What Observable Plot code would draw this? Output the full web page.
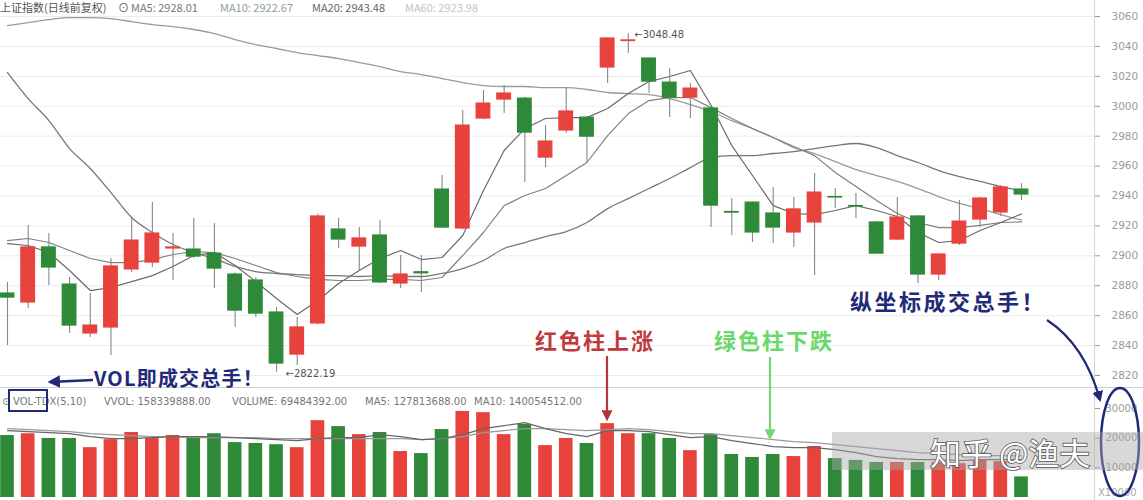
<!DOCTYPE html>
<html><head><meta charset="utf-8">
<script src="https://cdn.jsdelivr.net/npm/d3@7"></script>
<script src="https://cdn.jsdelivr.net/npm/@observablehq/plot@0.6"></script>
<style>
body{margin:0;background:#fff;}
#wrap{position:relative;width:1143px;height:500px;overflow:hidden;background:#fff;font-family:"Noto Sans CJK SC","DejaVu Sans",sans-serif;}
#price{position:absolute;left:0;top:0;}
#vol{position:absolute;left:0;top:388px;}
#over{position:absolute;left:0;top:0;}
</style></head><body>
<div id="wrap"><div id="price"></div><div id="vol"></div><svg id="over" width="1143" height="500"></svg></div>
<script>
// ---- data ----
const days = d3.range(1, 51);
const opens = [2874.8,2868.8,2905.6,2880.8,2848.1,2852.1,2890.9,2895.5,2904.9,2904.2,2901.5,2887.5,2883.5,2862.1,2834.0,2854.8,2917.6,2906.2,2913.6,2881.5,2889.0,2944.3,2918.3,2991.8,3004.5,3005.1,2965.7,2983.8,2992.4,3025.9,3043.6,3031.9,3015.8,3005.8,2998.5,2929.3,2935.6,2928.3,2915.6,2922.3,2939.3,2933.3,2922.3,2910.9,2926.3,2887.5,2908.2,2924.3,2929.0,2944.3];
const closes = [2872.1,2905.6,2892.2,2853.4,2853.4,2892.9,2910.2,2914.9,2905.6,2899.5,2891.5,2863.4,2861.4,2828.0,2852.1,2926.3,2910.9,2911.6,2882.2,2887.5,2888.3,2918.9,2987.1,3001.8,3008.5,2982.4,2976.4,2996.5,2979.7,3045.3,3044.0,3016.5,3005.8,3011.8,2933.6,2928.9,2915.6,2918.9,2931.0,2942.3,2939.0,2933.0,2901.5,2925.6,2887.5,2900.9,2922.9,2938.3,2945.7,2941.0];
const highs = [2882.2,2920.3,2914.9,2885.5,2874.8,2898.2,2924.9,2935.6,2914.9,2924.9,2921.6,2888.5,2885.5,2865.5,2858.8,2928.0,2924.9,2918.9,2923.6,2900.2,2900.2,2953.7,2997.1,3010.5,3013.8,3006.0,2987.1,3012.5,2993.0,3046.0,3048.48,3032.5,3025.2,3015.2,2999.0,2938.3,2936.0,2945.7,2939.0,2955.0,2945.0,2941.6,2923.0,2939.0,2927.0,2901.5,2937.0,2939.0,2947.0,2948.3];
const lows = [2840.1,2864.8,2880.2,2848.1,2845.4,2833.4,2888.8,2892.2,2883.5,2898.2,2878.2,2852.1,2858.8,2822.19,2826.7,2854.0,2904.9,2890.2,2881.5,2878.2,2875.5,2918.3,2917.5,2991.0,2995.1,2949.0,2959.0,2982.0,2962.4,3015.2,3035.2,3008.5,2992.4,2991.8,2918.9,2913.6,2908.9,2908.2,2905.6,2886.8,2931.6,2924.9,2901.0,2910.2,2881.5,2883.5,2906.9,2918.9,2926.3,2937.0];
const ma5 = [2908.2,2906.9,2902.2,2890.2,2876.8,2878.8,2882.8,2886.8,2892.9,2900.2,2902.2,2893.5,2882.8,2871.5,2860.8,2870.1,2881.5,2890.2,2898.2,2903.6,2897.5,2898.9,2913.6,2943.7,2970.4,2985.1,2991.8,2992.4,2992.4,2998.5,3008.5,3016.5,3019.9,3023.9,3000.5,2973.7,2953.7,2933.6,2928.3,2927.6,2930.3,2933.6,2930.3,2926.3,2915.6,2908.9,2910.2,2916.9,2922.3,2928.01];
const ma10 = [2910.2,2911.6,2908.9,2903.6,2898.2,2895.5,2895.5,2897.5,2900.9,2902.9,2902.2,2898.2,2893.5,2888.8,2886.2,2884.2,2883.5,2883.5,2884.2,2884.2,2883.5,2885.5,2900.2,2915.6,2933.6,2940.3,2945.0,2953.7,2962.4,2980.4,2995.1,3003.8,3005.8,3005.8,2999.1,2991.8,2985.1,2979.1,2973.1,2967.0,2955.7,2946.3,2937.0,2928.3,2922.3,2918.9,2918.9,2920.3,2922.3,2922.67];
const ma20 = [3022.5,3005.1,2990.4,2971.7,2958.4,2942.3,2925.6,2915.6,2907.6,2902.2,2898.2,2892.9,2889.5,2888.2,2887.5,2886.8,2886.8,2886.2,2886.8,2886.2,2886.2,2888.2,2891.5,2896.9,2904.9,2908.9,2912.9,2916.2,2922.3,2931.6,2938.3,2945.0,2951.7,2959.0,2965.7,2967.0,2967.0,2968.4,2969.7,2971.7,2973.7,2975.1,2972.4,2967.0,2962.4,2957.0,2953.0,2949.7,2946.3,2943.48];
const ma60 = [3053.9,3055.9,3057.9,3059.3,3059.3,3058.6,3056.6,3054.6,3053.3,3051.3,3048.6,3044.6,3041.2,3038.6,3035.9,3033.9,3031.9,3029.2,3026.5,3023.2,3021.2,3018.5,3015.8,3013.8,3013.2,3013.2,3012.5,3012.5,3011.2,3009.2,3008.5,3007.8,3005.1,3001.1,2996.5,2990.4,2985.1,2979.1,2972.4,2968.4,2963.0,2957.7,2953.7,2949.7,2945.0,2939.6,2935.0,2931.6,2927.6,2923.98];
// volume in 万手 (x10^4)
const volumes = [20900,21500,19900,19900,16800,19500,21900,19900,20900,20200,21500,18500,18200,17800,16800,25900,23900,21200,21900,15500,14800,22900,29000,28600,21200,24600,17500,19900,18200,24900,21500,21500,19900,15800,21200,14500,13500,14500,13800,17200,13100,12500,11800,11800,11800,11800,11400,12500,12100,6948];
const volMa5 = [22560,22200,21890,21550,20540,19870,19870,20200,20540,20540,20540,20200,19870,19530,19190,19870,20200,20200,21210,20540,19530,19870,21210,23230,24240,25250,23230,21550,20540,22560,22560,22200,21210,20200,20540,19190,18180,17170,16840,16840,16160,15150,13800,13130,12800,12800,12460,12800,12800,12781];
const volMa10 = [23230,22900,22560,22200,21550,21210,20880,20540,20540,20200,20200,20200,20200,19870,19870,19870,19870,19870,19870,19870,19530,19870,20540,21890,22560,23230,23230,22900,22560,22900,23230,22900,22200,21550,21550,20880,20200,19530,18860,18520,17850,17170,16500,15820,15150,14810,14480,14140,14140,14005];
const priceTicks = [2820,2840,2860,2880,2900,2920,2940,2960,2980,3000,3020,3040,3060];
const volTicks = [10000,20000,30000];
const highMark = {d: 31, v: 3048.48};
const lowMark = {d: 14, v: 2822.19};

// ---- tables ----
const RED = "#e8423d", GREEN = "#2e8a38";
const candles = days.map((d, i) => ({d, o: opens[i], c: closes[i], h: highs[i], l: lows[i], up: closes[i] >= opens[i],
  ma5: ma5[i], ma10: ma10[i], ma20: ma20[i], ma60: ma60[i], v: volumes[i], vm5: volMa5[i], vm10: volMa10[i]}));
const ups = candles.filter(c => c.up), downs = candles.filter(c => !c.up);
const W = 0.33;
const xScale = {type: "linear", domain: [1, 50], range: [7, 1021], axis: null};
const fmt = d3.format("d");

const price = Plot.plot({
  width: 1143, height: 388, marginLeft: 0, marginRight: 49, marginTop: 0, marginBottom: 0,
  style: {fontFamily: "DejaVu Sans, sans-serif", background: "transparent"},
  x: xScale,
  y: {domain: [2820, 3060], range: [375, 16], axis: null},
  marks: [
    Plot.gridY(priceTicks, {stroke: "#ececec", strokeOpacity: 1}),
    Plot.axisY(priceTicks, {anchor: "right", tickSize: 5, tickPadding: 12, fontSize: 10.5, color: "#9a9a9a", tickFormat: fmt, label: null}),
    Plot.line(candles, {x: "d", y: "ma60", stroke: "#9a9a9a", strokeWidth: 1.3, curve: "monotone-x"}),
    Plot.line(candles, {x: "d", y: "ma20", stroke: "#777", strokeWidth: 1.3, curve: "monotone-x"}),
    Plot.line(candles, {x: "d", y: "ma10", stroke: "#808080", strokeWidth: 1.2}),
    Plot.line(candles, {x: "d", y: "ma5", stroke: "#6a6a6a", strokeWidth: 1.2}),
    Plot.ruleX(candles, {x: "d", y1: "l", y2: "h", stroke: "#888", strokeWidth: 1.1}),
    Plot.rect(ups, {x1: d => d.d - W, x2: d => d.d + W, y1: "o", y2: "c", fill: RED, stroke: RED, strokeWidth: 1.2}),
    Plot.rect(downs, {x1: d => d.d - W, x2: d => d.d + W, y1: "o", y2: "c", fill: GREEN, stroke: GREEN, strokeWidth: 1.2}),
    Plot.text([highMark], {x: "d", y: "v", text: d => "←" + d.v.toFixed(2), textAnchor: "start", dx: 6, dy: 1, fontSize: 10, fill: "#555"}),
    Plot.text([lowMark], {x: "d", y: "v", text: d => "←" + d.v.toFixed(2), textAnchor: "start", dx: 9, dy: 2, fontSize: 10, fill: "#555"})
  ]
});
document.getElementById("price").append(price);

const vol = Plot.plot({
  width: 1143, height: 112, marginLeft: 0, marginRight: 49, marginTop: 0, marginBottom: 0,
  style: {fontFamily: "DejaVu Sans, sans-serif", background: "transparent"},
  x: xScale,
  y: {domain: [0, 30000], range: [109, 20], axis: null},
  marks: [
    Plot.axisY(volTicks, {anchor: "right", tickSize: 5, tickPadding: 6, fontSize: 10, color: "#9a9a9a", tickFormat: fmt, label: null}),
    Plot.rect(ups, {x1: d => d.d - W, x2: d => d.d + W, y1: d => 0, y2: "v", fill: RED}),
    Plot.rect(downs, {x1: d => d.d - W, x2: d => d.d + W, y1: d => 0, y2: "v", fill: GREEN}),
    Plot.line(candles, {x: "d", y: "vm10", stroke: "#999", strokeWidth: 1.2}),
    Plot.line(candles, {x: "d", y: "vm5", stroke: "#666", strokeWidth: 1.2})
  ]
});
document.getElementById("vol").append(vol);

// ---- decorations / annotations ----
const NAVY = "#1f2a78";
const svg = d3.select("#over");
const defs = svg.append("defs");
function marker(id, color, size) {
  defs.append("marker").attr("id", id).attr("viewBox", "0 0 10 10").attr("refX", 8).attr("refY", 5)
    .attr("markerWidth", size).attr("markerHeight", size).attr("orient", "auto-start-reverse")
    .append("path").attr("d", "M0,0 L10,5 L0,10 z").attr("fill", color);
}
marker("mNavy", NAVY, 5); marker("mRed", "#b8333a", 5); marker("mGreen", "#76d676", 5);

svg.append("line").attr("x1", 0).attr("x2", 1143).attr("y1", 387.5).attr("y2", 387.5).attr("stroke", "#d0d0d0");
svg.append("line").attr("x1", 1094.5).attr("x2", 1094.5).attr("y1", 0).attr("y2", 500).attr("stroke", "#d6d6d6");

// top header
const hdr = svg.append("text").attr("y", 12).attr("font-size", 11).attr("font-family", "Noto Sans CJK SC, DejaVu Sans");
hdr.append("tspan").attr("x", 0).attr("fill", "#555").text("上证指数(日线前复权)");
hdr.append("tspan").attr("x", 118).attr("fill", "#555").text("⊙");
hdr.append("tspan").attr("x", 131).attr("fill", "#777").text("MA5: 2928.01");
hdr.append("tspan").attr("x", 220).attr("fill", "#8fa08f").text("MA10: 2922.67");
hdr.append("tspan").attr("x", 312).attr("fill", "#666").text("MA20: 2943.48");
hdr.append("tspan").attr("x", 405).attr("fill", "#c4c4c4").text("MA60: 2923.98");

// volume header
const vh = svg.append("text").attr("y", 405).attr("font-size", 10).attr("fill", "#777").attr("font-family", "DejaVu Sans, sans-serif");
vh.append("tspan").attr("x", 2).text("⊙");
vh.append("tspan").attr("x", 13).text("VOL-TDX(5,10)");
vh.append("tspan").attr("x", 104).text("VVOL: 158339888.00");
vh.append("tspan").attr("x", 232).text("VOLUME: 69484392.00");
vh.append("tspan").attr("x", 365).text("MA5: 127813688.00");
vh.append("tspan").attr("x", 474).text("MA10: 140054512.00");
svg.append("rect").attr("x", 9).attr("y", 390).attr("width", 38).attr("height", 21).attr("fill", "none").attr("stroke", NAVY).attr("stroke-width", 2);
svg.append("text").attr("x", 1098).attr("y", 496).attr("font-size", 10).attr("fill", "#aaa").attr("font-family", "DejaVu Sans").text("X10000");

// annotations
const cjk = "Noto Sans CJK SC";
svg.append("text").attr("x", 94).attr("y", 386).attr("font-family", cjk).attr("font-weight", 700).attr("font-size", 20).attr("fill", NAVY).attr("letter-spacing", 1.2).text("VOL即成交总手！");
svg.append("line").attr("x1", 93).attr("y1", 380).attr("x2", 50).attr("y2", 382).attr("stroke", NAVY).attr("stroke-width", 2.5).attr("marker-end", "url(#mNavy)");
svg.append("text").attr("x", 535).attr("y", 349).attr("font-family", cjk).attr("font-weight", 700).attr("font-size", 22).attr("fill", "#c0393e").attr("letter-spacing", 2).text("红色柱上涨");
svg.append("line").attr("x1", 607).attr("y1", 356).attr("x2", 607).attr("y2", 419).attr("stroke", "#b8333a").attr("stroke-width", 2.2).attr("marker-end", "url(#mRed)");
svg.append("text").attr("x", 714).attr("y", 349).attr("font-family", cjk).attr("font-weight", 700).attr("font-size", 22).attr("fill", "#6cd86c").attr("letter-spacing", 2).text("绿色柱下跌");
svg.append("line").attr("x1", 770).attr("y1", 357).attr("x2", 770).attr("y2", 438).attr("stroke", "#76d676").attr("stroke-width", 2.2).attr("marker-end", "url(#mGreen)");
svg.append("text").attr("x", 850).attr("y", 310).attr("font-family", cjk).attr("font-weight", 700).attr("font-size", 22).attr("fill", NAVY).attr("letter-spacing", 2.5).text("纵坐标成交总手！");
svg.append("path").attr("d", "M1047,320 Q1085,345 1100,400").attr("fill", "none").attr("stroke", NAVY).attr("stroke-width", 2.2).attr("marker-end", "url(#mNavy)");
svg.append("ellipse").attr("cx", 1120).attr("cy", 442).attr("rx", 19).attr("ry", 54).attr("fill", "none").attr("stroke", NAVY).attr("stroke-width", 2.5);

// watermark
svg.append("rect").attr("x", 832).attr("y", 432).attr("width", 311).attr("height", 38).attr("fill", "#a8a8a8").attr("opacity", 0.45);
svg.append("text").attr("x", 930).attr("y", 465).attr("font-family", cjk).attr("font-size", 31).attr("fill", "#fff")
  .attr("stroke", "#555").attr("stroke-width", 1.6).attr("paint-order", "stroke").text("知乎 @渔夫");
</script>
</body></html>
